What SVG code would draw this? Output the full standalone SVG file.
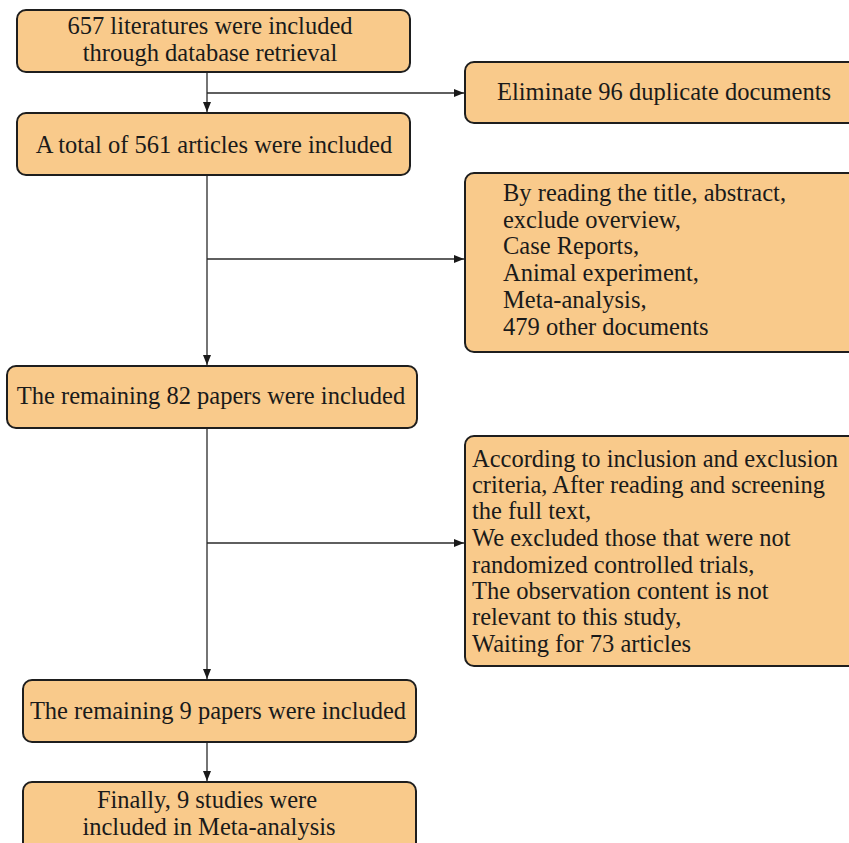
<svg xmlns="http://www.w3.org/2000/svg" width="849" height="843" viewBox="0 0 849 843">
<defs>
<style>
.box{fill:#F9CA8B;stroke:#1e1e1e;stroke-width:2}
.t{font-family:"Liberation Serif","Times New Roman",serif;font-size:24.5px;fill:#1a1a1a}
.c{text-anchor:middle}
.ln{stroke:#2a2a2a;stroke-width:1.3;fill:none}
</style>
<marker id="ah" viewBox="0 0 10 8" refX="10" refY="4" markerWidth="10" markerHeight="8" markerUnits="userSpaceOnUse" orient="auto">
<path d="M0,0 L10,4 L0,8 Z" fill="#1a1a1a"/>
</marker>
</defs>
<rect width="849" height="843" fill="#ffffff"/>
<g id="connectors">
<line class="ln" x1="207" y1="72" x2="207" y2="112" marker-end="url(#ah)"/>
<line class="ln" x1="207" y1="93" x2="464" y2="93" marker-end="url(#ah)"/>
<line class="ln" x1="207" y1="176" x2="207" y2="365" marker-end="url(#ah)"/>
<line class="ln" x1="207" y1="259" x2="464" y2="259" marker-end="url(#ah)"/>
<line class="ln" x1="207" y1="429" x2="207" y2="679" marker-end="url(#ah)"/>
<line class="ln" x1="207" y1="543" x2="464" y2="543" marker-end="url(#ah)"/>
<line class="ln" x1="207" y1="743" x2="207" y2="781" marker-end="url(#ah)"/>
</g>
<g id="n1">
<rect class="box" x="17" y="10" width="393" height="62" rx="9"/>
<text class="t c" x="210" y="34">657 literatures were included</text>
<text class="t c" x="210" y="61">through database retrieval</text>
</g>
<g id="n2">
<rect class="box" x="17" y="113" width="393" height="62" rx="9"/>
<text class="t c" x="214" y="153">A total of 561 articles were included</text>
</g>
<g id="n3">
<rect class="box" x="465" y="62" width="400" height="61" rx="9"/>
<text class="t" x="497" y="100">Eliminate 96 duplicate documents</text>
</g>
<g id="n4">
<rect class="box" x="465" y="173" width="400" height="179" rx="9"/>
<text class="t" x="503" y="201">By reading the title, abstract,</text>
<text class="t" x="503" y="228">exclude overview,</text>
<text class="t" x="503" y="254">Case Reports,</text>
<text class="t" x="503" y="281">Animal experiment,</text>
<text class="t" x="503" y="308">Meta-analysis,</text>
<text class="t" x="503" y="335">479 other documents</text>
</g>
<g id="n5">
<rect class="box" x="7" y="366" width="410" height="62" rx="9"/>
<text class="t c" x="211" y="404">The remaining 82 papers were included</text>
</g>
<g id="n6">
<rect class="box" x="465" y="436" width="400" height="230" rx="9"/>
<text class="t" x="472" y="467">According to inclusion and exclusion</text>
<text class="t" x="472" y="493">criteria, After reading and screening</text>
<text class="t" x="472" y="519">the full text,</text>
<text class="t" x="472" y="546">We excluded those that were not</text>
<text class="t" x="472" y="573">randomized controlled trials,</text>
<text class="t" x="472" y="599">The observation content is not</text>
<text class="t" x="472" y="625">relevant to this study,</text>
<text class="t" x="472" y="652">Waiting for 73 articles</text>
</g>
<g id="n7">
<rect class="box" x="23" y="680" width="393" height="62" rx="9"/>
<text class="t c" x="218" y="719">The remaining 9 papers were included</text>
</g>
<g id="n8">
<rect class="box" x="23" y="782" width="393" height="80" rx="9"/>
<text class="t c" x="207" y="808">Finally, 9 studies were</text>
<text class="t c" x="209" y="835">included in Meta-analysis</text>
</g>
</svg>
